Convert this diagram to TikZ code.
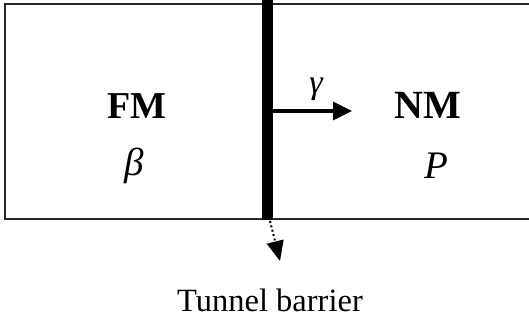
\documentclass[tikz,border=0pt]{standalone}
\usepackage{fontspec}
\setmainfont{Liberation Serif}
\usetikzlibrary{arrows.meta}
\begin{document}
\begin{tikzpicture}[x=1pt,y=-1pt,
  lbl/.style={anchor=base,inner sep=0pt,font=\fontsize{39}{39}\selectfont},
  border/.style={line width=1.4pt,draw=black!85}]
\useasboundingbox (0,0) rectangle (529,322);
\coordinate (tl) at (5,4);
\coordinate (bl) at (5,219);
\coordinate (tr) at (529,4);
\coordinate (br) at (529,219);
\draw[border] (tr) -- (tl) -- (bl) -- (br);
\coordinate (bt) at (267.5,0);
\coordinate (bb) at (267.5,220);
\draw[line width=11pt] (bt) -- (bb);
\coordinate (as) at (273,111);
\coordinate (ae) at (352,111);
\draw[line width=3.2pt,-{Triangle[length=19pt,width=18pt]}] (as) -- (ae);
\node[lbl,font=\fontsize{34}{34}\selectfont] (gam) at (316,93) {\itshape γ};
\node[lbl,font=\fontsize{38}{38}\selectfont\bfseries] (fm) at (137,118) {FM};
\node[lbl] (beta) at (134,175) {\itshape β};
\node[lbl,font=\fontsize{40}{40}\selectfont\bfseries] (nm) at (427.5,118) {NM};
\node[lbl] (p) at (436,178) {\itshape P};
\coordinate (ds) at (270,221);
\coordinate (de) at (280,261);
\draw[line width=2pt,dash pattern=on 2pt off 2.5pt,-{Triangle[length=20pt,width=17pt]}] (ds) -- (de);
\node[lbl,font=\fontsize{32.5}{32.5}\selectfont] (tb) at (270,311) {Tunnel barrier};
\end{tikzpicture}
\end{document}
